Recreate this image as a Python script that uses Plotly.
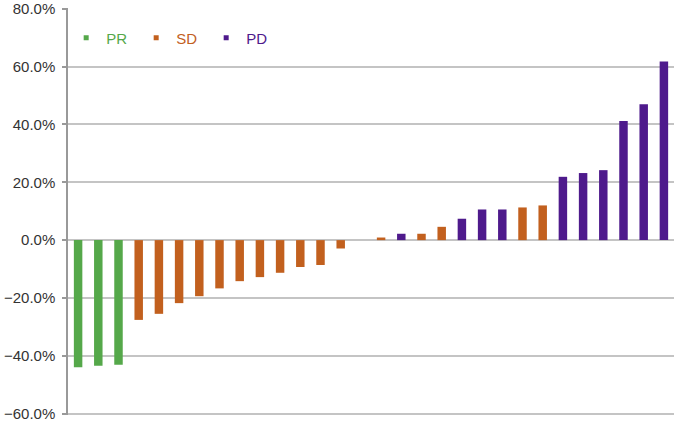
import plotly.graph_objects as go

# Best percent change per patient (waterfall), sorted
patients = [str(i) for i in range(1, 31)]
pct_change = [-44.0, -43.5, -43.1,
              -27.6, -25.5, -21.8, -19.4, -16.7, -14.2, -12.8, -11.3, -9.3, -8.6,
              -2.9, 0.0, 0.9, 2.2, 2.2, 4.6, 7.4, 10.6, 10.6, 11.3, 12.0,
              21.9, 23.2, 24.2, 41.2, 47.0, 61.8]
response = ["PR", "PR", "PR",
            "SD", "SD", "SD", "SD", "SD", "SD", "SD", "SD", "SD", "SD",
            "SD", "SD", "SD", "PD", "SD", "SD", "PD", "PD", "PD", "SD", "SD",
            "PD", "PD", "PD", "PD", "PD", "PD"]
groups = ["PR", "SD", "PD"]
colors = {"PR": "#55a84a", "SD": "#c2601e", "PD": "#4e1a8c"}
y_ticks = [-60, -40, -20, 0, 20, 40, 60, 80]
y_tick_labels = ["\u221260.0%", "\u221240.0%", "\u221220.0%", "0.0%",
                 "20.0%", "40.0%", "60.0%", "80.0%"]

fig = go.Figure()
for g in groups:
    xs = [p for p, r in zip(patients, response) if r == g]
    ys = [v for v, r in zip(pct_change, response) if r == g]
    fig.add_trace(go.Bar(x=xs, y=ys, width=0.42, marker_color=colors[g],
                         marker_line_width=0, showlegend=False, name=g))
    # legend entry with small square marker and coloured text
    fig.add_trace(go.Scatter(x=[None], y=[None], mode="markers",
                             marker=dict(symbol="square", size=5, color=colors[g]),
                             name=f'<span style="color:{colors[g]}">{g}</span>',
                             showlegend=True))

fig.update_layout(
    width=676, height=422,
    margin=dict(l=68, r=2, t=8, b=7),
    paper_bgcolor="white", plot_bgcolor="white",
    barmode="overlay",
    font=dict(family="Arial, Liberation Sans, sans-serif", size=15, color="#333333"),
    legend=dict(orientation="h", x=-0.003, y=0.926, xanchor="left", yanchor="middle",
                font=dict(size=15), itemwidth=30, entrywidth=25,
                entrywidthmode="pixels", bgcolor="rgba(0,0,0,0)",
                tracegroupgap=0),
    xaxis=dict(type="category", categoryorder="array", categoryarray=patients,
               range=[-0.5, 29.5], showticklabels=False, ticks="",
               showgrid=False, zeroline=False, showline=False),
    yaxis=dict(range=[-60.5, 80.3], tickvals=y_ticks, ticktext=y_tick_labels,
               showgrid=True, gridcolor="#c4c4c4", gridwidth=1.5,
               zeroline=False, showline=True, linecolor="#999999", linewidth=1.5,
               ticks="outside", ticklen=4, tickcolor="#999999", tickwidth=1.5,
               ticklabelstandoff=4, automargin=False),
)

fig.write_html("out.html", config={"displayModeBar": False})
with open("out.html", encoding="utf-8") as f:
    html = f.read()
html = html.replace("<head>", "<head><style>html,body{margin:0;padding:0;overflow:hidden;}</style>", 1)
with open("out.html", "w", encoding="utf-8") as f:
    f.write(html)
